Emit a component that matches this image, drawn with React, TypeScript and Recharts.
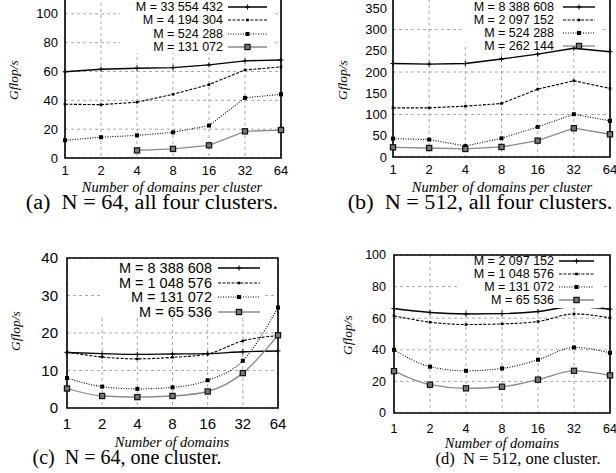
import { LineChart, Line, XAxis, YAxis, CartesianGrid, ReferenceArea } from 'recharts'

const domains = ['1', '2', '4', '8', '16', '32', '64']

// (a) N = 64, all four clusters
const labelsA = ['M = 33 554 432', 'M = 4 194 304', 'M = 524 288', 'M = 131 072']
const a0 = [59.8, 61.6, 62.3, 62.7, 64.6, 67.4, 68]
const a1 = [37.3, 37, 38.7, 44.2, 50.9, 61.1, 63.2]
const a2 = [12.3, 14.4, 15.7, 17.8, 22.5, 41.7, 44.2]
const a3 = [null, null, 5.3, 6.3, 8.8, 18.5, 19.4]
const ticksA = [0, 20, 40, 60, 80, 100, 120]

// (b) N = 512, all four clusters
const labelsB = ['M = 8 388 608', 'M = 2 097 152', 'M = 524 288', 'M = 262 144']
const b0 = [220, 218.6, 220, 230.5, 242, 255.7, 247.8]
const b1 = [115.7, 115.7, 119.6, 125.9, 159.7, 179.4, 161.3]
const b2 = [43.3, 40.9, 26, 44, 70.8, 100.7, 85]
const b3 = [22.8, 21.2, 18.9, 23.6, 38.5, 67.7, 53.5]
const ticksB = [0, 50, 100, 150, 200, 250, 300, 350, 400]

// (c) N = 64, one cluster
const labelsC = ['M = 8 388 608', 'M = 1 048 576', 'M = 131 072', 'M = 65 536']
const c0 = [14.8, 14.5, 14.3, 14.4, 14.5, 15.0, 15.2]
const c1 = [14.9, 13.6, 13.1, 13.5, 14.4, 17.9, 19.3]
const c2 = [8.0, 5.7, 5.1, 5.5, 7.4, 12.6, 26.8]
const c3 = [5.2, 3.2, 2.9, 3.2, 4.4, 9.3, 19.4]
const ticksC = [0, 5, 10, 15, 20, 25, 30, 35, 40]

// (d) N = 512, one cluster
const labelsD = ['M = 2 097 152', 'M = 1 048 576', 'M = 131 072', 'M = 65 536']
const d0 = [66.1, 63.6, 62.7, 62.9, 64.2, 67.4, 65.7]
const d1 = [61.5, 57.5, 56, 56.4, 57.9, 62.7, 60.2]
const d2 = [40, 29.3, 26.7, 28.2, 33.7, 41.5, 38.1]
const d3 = [26.5, 17.9, 15.6, 16.6, 21.1, 26.7, 23.8]
const ticksD = [0, 20, 40, 60, 80, 100]

const styles = [
  { stroke: '#000', width: 1.4, dash: undefined, kind: 'plus' },
  { stroke: '#000', width: 1.1, dash: '3 1.5', kind: 'dot' },
  { stroke: '#000', width: 1.1, dash: '1 1.5', kind: 'square' },
  { stroke: '#8a8a8a', width: 1.3, dash: undefined, kind: 'box' },
]

const serif = '"Liberation Serif", "Times New Roman", serif'
const sans = '"Liberation Sans", Arial, sans-serif'

function marker(kind: string, cx: number, cy: number, key: any) {
  if (kind === 'plus')
    return <path key={key} d={`M${cx - 2.5},${cy}h5M${cx},${cy - 2.5}v5`} stroke="#000" strokeWidth={1} />
  if (kind === 'dot')
    return <rect key={key} x={cx - 1.3} y={cy - 1.3} width={2.6} height={2.6} fill="#000" />
  if (kind === 'square')
    return <rect key={key} x={cx - 2} y={cy - 2} width={4} height={4} fill="#000" />
  return (
    <rect key={key} x={cx - 2.6} y={cy - 2.6} width={5.2} height={5.2} fill="#777" stroke="#111" strokeWidth={1.2} />
  )
}

// gnuplot style key: right aligned text, sample line with its marker
function KeyBox({ labels, g }: any) {
  const len = g.lineR - g.lineL
  const h = 14
  return (
    <div
      style={{
        position: 'absolute',
        left: g.boxL,
        top: g.boxT,
        width: g.boxR - g.boxL,
        height: g.boxB - g.boxT,
        background: '#fff',
      }}
    >
      {labels.map((t: string, i: number) => {
        const s = styles[i]
        return (
          <div
            key={t}
            style={{
              position: 'absolute',
              left: 0,
              top: g.y0 + i * g.dy - h / 2 - g.boxT,
              width: g.boxR - g.boxL,
              height: h,
            }}
          >
            <div
              style={{
                position: 'absolute',
                left: 0,
                top: 0,
                width: g.textR - g.boxL,
                textAlign: 'right',
                fontFamily: sans,
                fontSize: g.fs,
                lineHeight: h + 'px',
                whiteSpace: 'pre',
              }}
            >
              {t}
            </div>
            <svg style={{ position: 'absolute', left: g.lineL - g.boxL, top: 0 }} width={len} height={h}>
              <line x1={0} x2={len} y1={h / 2} y2={h / 2} stroke={s.stroke} strokeWidth={s.width} strokeDasharray={s.dash} />
              {marker(s.kind, len / 2, h / 2, 'm')}
            </svg>
          </div>
        )
      })}
    </div>
  )
}

function Panel({ p }: any) {
  const rows = domains.map((d, i) => ({
    d,
    s0: p.series[0][i],
    s1: p.series[1][i],
    s2: p.series[2][i],
    s3: p.series[3][i],
  }))
  const max = p.ticks[p.ticks.length - 1]
  return (
    <div style={{ position: 'absolute', left: p.left, top: p.top }}>
      <LineChart width={p.width} height={p.height} data={rows} margin={{ top: 10, right: p.right, bottom: 0, left: 0 }}>
        <CartesianGrid stroke="#a8a8a8" strokeDasharray="3 3" />
        <XAxis
          dataKey="d"
          height={30}
          axisLine={false}
          tickLine={false}
          interval={0}
          tickMargin={p.xMargin}
          tick={{ fontSize: p.fs, fill: '#000', fontFamily: sans }}
        />
        <YAxis
          width={p.yw}
          domain={[0, max]}
          ticks={p.ticks}
          axisLine={false}
          tickLine={false}
          tickMargin={p.yMargin}
          tick={{ fontSize: p.fs, fill: '#000', fontFamily: sans }}
        />
        <ReferenceArea x1="1" x2="64" y1={0} y2={max} fill="none" stroke="#000" strokeWidth={1.6} ifOverflow="visible" />
        {styles.map((s, k) => (
          <Line
            key={k}
            dataKey={'s' + k}
            type={p.curve}
            stroke={s.stroke}
            strokeWidth={s.width}
            strokeDasharray={s.dash}
            isAnimationActive={false}
            dot={(props: any) => {
              const { cx, cy, index, value } = props
              if (value == null || cy == null) return <g key={index} />
              return marker(s.kind, cx, cy, index)
            }}
          />
        ))}
      </LineChart>
    </div>
  )
}

function Label({ x, y, size, italic, rotate, sx = 1, children }: any) {
  return (
    <div
      style={{
        position: 'absolute',
        left: x,
        top: y,
        fontFamily: serif,
        fontStyle: italic ? 'italic' : 'normal',
        fontSize: size,
        lineHeight: 0.85,
        whiteSpace: 'pre',
        transform: rotate ? 'translate(-50%, -50%) rotate(-90deg)' : `translateX(-50%) scaleX(${sx})`,
        color: '#000',
      }}
    >
      {children}
    </div>
  )
}

const panels = [
  {
    series: [a0, a1, a2, a3], labels: labelsA, ticks: ticksA, curve: 'linear',
    left: 0, top: -25, width: 300, height: 213, yw: 65, right: 19, fs: 13, xMargin: 2, yMargin: 1,
    key: { boxL: 120, boxT: -5, boxR: 273, boxB: 53, textR: 223, y0: 7, dy: 13.4, lineL: 228, lineR: 267, fs: 12.5 },
  },
  {
    series: [b0, b1, b2, b3], labels: labelsB, ticks: ticksB, curve: 'linear',
    left: 306, top: -23, width: 310, height: 210, yw: 87, right: 6, fs: 13, xMargin: 2, yMargin: 0,
    key: { boxL: 463, boxT: -5, boxR: 600, boxB: 46, textR: 554, y0: 7, dy: 13, lineL: 563, lineR: 595, fs: 12.5 },
  },
  {
    series: [c0, c1, c2, c3], labels: labelsC, ticks: ticksC, curve: 'monotone',
    left: 0, top: 248, width: 300, height: 190, yw: 67, right: 22, fs: 15, xMargin: 4, yMargin: 3,
    key: { boxL: 100, boxT: 259, boxR: 264, boxB: 318, textR: 212, y0: 268, dy: 14.7, lineL: 218, lineR: 260, fs: 14.5 },
  },
  {
    series: [d0, d1, d2, d3], labels: labelsD, ticks: ticksD, curve: 'monotone',
    left: 306, top: 245, width: 310, height: 198, yw: 88, right: 6, fs: 12.5, xMargin: 5, yMargin: 2,
    key: { boxL: 458, boxT: 256, boxR: 601, boxB: 308, textR: 554, y0: 261, dy: 13, lineL: 559, lineR: 594, fs: 12.5 },
  },
]

export default function App() {
  return (
    <div
      style={{
        position: 'absolute',
        left: 0,
        top: 0,
        width: 616,
        height: 473,
        overflow: 'hidden',
        background: '#fff',
      }}
    >
      {panels.map((p, i) => (
        <Panel key={i} p={p} />
      ))}
      {panels.map((p, i) => (
        <KeyBox key={'k' + i} labels={p.labels} g={p.key} />
      ))}

      <Label x={14} y={80} size={13.5} italic rotate>Gflop/s</Label>
      <Label x={343} y={80} size={13.5} italic rotate>Gflop/s</Label>
      <Label x={16} y={331} size={13.5} italic rotate>Gflop/s</Label>
      <Label x={348} y={335} size={13.5} italic rotate>Gflop/s</Label>

      <Label x={172} y={180.5} size={14.5} italic>Number of domains per cluster</Label>
      <Label x={502} y={180.5} size={14.5} italic>Number of domains per cluster</Label>
      <Label x={172} y={435.5} size={14.5} italic>Number of domains</Label>
      <Label x={502} y={436.5} size={14.5} italic>Number of domains</Label>

      <Label x={152} y={193.5} size={20} sx={1.11}>(a)  N = 64, all four clusters.</Label>
      <Label x={480} y={193.5} size={20} sx={1.11}>(b)  N = 512, all four clusters.</Label>
      <Label x={127} y={448.5} size={20}>(c)  N = 64, one cluster.</Label>
      <Label x={518} y={451.5} size={16.5}>(d)  N = 512, one cluster.</Label>
    </div>
  )
}
